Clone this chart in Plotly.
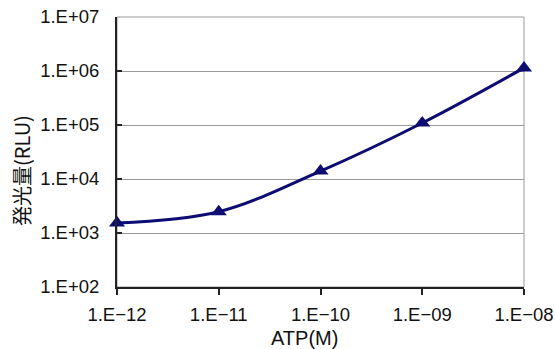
import plotly.graph_objects as go

atp_conc = [1e-12, 1e-11, 1e-10, 1e-9, 1e-8]
rlu = [1530, 2480, 14000, 109000, 1140000]

x_tickvals = [1e-12, 1e-11, 1e-10, 1e-9, 1e-8]
x_ticktext = ["1.E\u221212", "1.E\u221211", "1.E\u221210", "1.E\u221209", "1.E\u221208"]
y_tickvals = [1e2, 1e3, 1e4, 1e5, 1e6, 1e7]
y_ticktext = ["1.E+02", "1.E+03", "1.E+04", "1.E+05", "1.E+06", "1.E+07"]

navy = "#0c0c72"
font = "Liberation Sans, Arial, sans-serif"
cjk = "Noto Sans CJK JP, " + font

fig = go.Figure()
fig.add_trace(go.Scatter(
    x=atp_conc, y=rlu, mode="lines+markers",
    line=dict(color=navy, width=3, shape="spline", smoothing=1.0),
    marker=dict(symbol="triangle-up", size=14, color=navy),
    cliponaxis=False, showlegend=False,
))

fig.update_layout(
    width=555, height=349,
    margin=dict(l=117, r=31, t=17, b=62),
    paper_bgcolor="white", plot_bgcolor="white",
    font=dict(family=font, size=18, color="#111"),
    xaxis=dict(
        type="log", range=[-12, -8], automargin=False,
        tickvals=x_tickvals, ticktext=x_ticktext,
        showgrid=False, zeroline=False,
        showline=True, linecolor="#222", linewidth=2,
        ticks="outside", ticklen=6, tickcolor="#222", tickwidth=1.5,
        ticklabelstandoff=4,
        tickfont=dict(size=18.5, family=font),
    ),
    yaxis=dict(
        type="log", range=[2, 7], automargin=False,
        tickvals=y_tickvals, ticktext=y_ticktext,
        showgrid=True, gridcolor="#9a9a9a", gridwidth=1,
        zeroline=False,
        showline=True, linecolor="#222", linewidth=2,
        ticks="inside", ticklen=5, tickcolor="#222", tickwidth=1.5,
        ticklabelstandoff=12,
        tickfont=dict(size=18.5, family=font),
    ),
    shapes=[dict(type="rect", xref="paper", yref="paper", x0=0, x1=1, y0=0, y1=1,
                 line=dict(color="#9a9a9a", width=1), layer="below")],
    annotations=[
        dict(text="ATP(M)", xref="paper", yref="paper", x=(304-117)/407, y=-(338-287)/270,
             showarrow=False, xanchor="center", yanchor="middle",
             font=dict(size=20, family=font, color="#111")),
        dict(text="発光量(RLU)", xref="paper", yref="paper", x=-(117-21)/407, y=(287-171)/270,
             showarrow=False, xanchor="center", yanchor="middle", textangle=-90,
             font=dict(size=20, family=cjk, color="#111")),
    ],
)

fig.write_html("out.html", config={"displayModeBar": False},
               post_script="document.body.style.margin='0';document.body.style.overflow='hidden';")
